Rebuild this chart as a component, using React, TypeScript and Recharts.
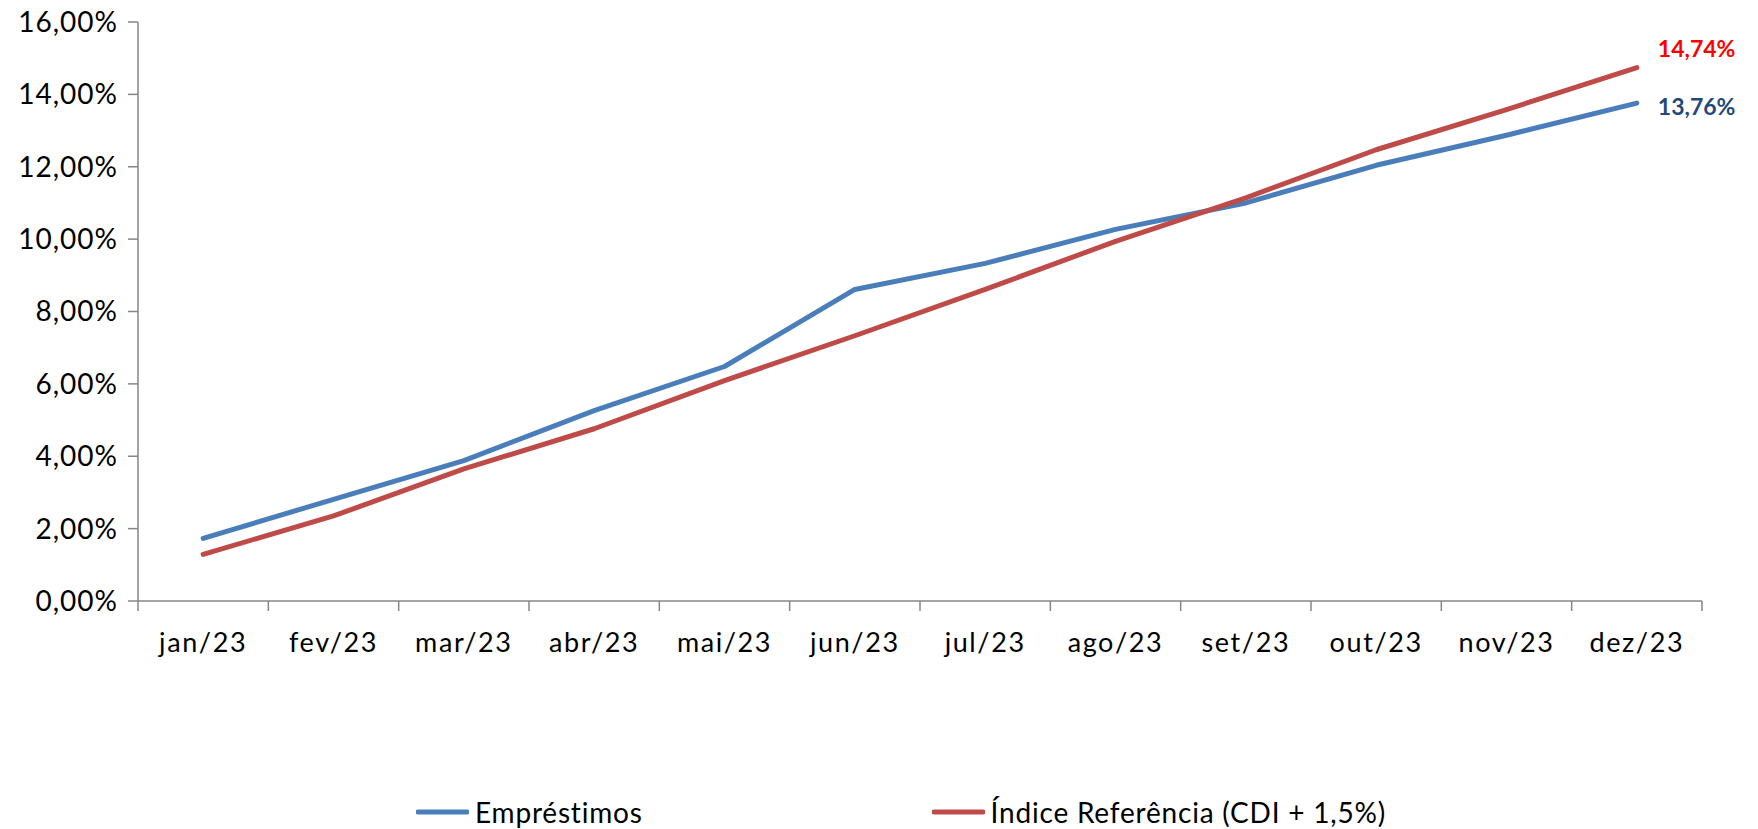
import React from 'react';
import { ComposedChart, Line, XAxis, YAxis, Legend, LabelList } from 'recharts';

const months = ['jan/23', 'fev/23', 'mar/23', 'abr/23', 'mai/23', 'jun/23', 'jul/23', 'ago/23', 'set/23', 'out/23', 'nov/23', 'dez/23'];
const emprestimos = [1.73, 2.81, 3.88, 5.26, 6.48, 8.61, 9.33, 10.27, 11.0, 12.04, 12.87, 13.76];
const indiceReferencia = [1.29, 2.35, 3.65, 4.76, 6.09, 7.33, 8.61, 9.94, 11.14, 12.47, 13.58, 14.74];
const yTicks = [0, 2, 4, 6, 8, 10, 12, 14, 16];
const seriesNames = ['Empréstimos', 'Índice Referência (CDI + 1,5%)'];
const seriesColors = ['#4A7EBB', '#BE4B48'];
const labelColors = ['#1F497D', '#FF0000'];

const data = months.map((m, i) => ({ month: m, emp: emprestimos[i], idx: indiceReferencia[i] }));

const fmtPct = (v: number) => v.toFixed(2).replace('.', ',') + '%';

const FONT = 'Lato, "Open Sans", sans-serif';
const AXIS_GRAY = '#868686';

const makeEndLabel = (color: string, dy: number) => (props: any) => {
  const { x, y, value, index } = props;
  if (index !== months.length - 1) return null;
  return (
    <text x={x + 21} y={y + dy} fill={color} fontFamily={FONT} fontWeight={700} fontSize={23} dominantBaseline="central" textAnchor="start">
      {fmtPct(Number(value))}
    </text>
  );
};

const CategoryTick = (props: any) => {
  const { x, y, payload, index } = props;
  const half = payload && payload.offset ? payload.offset : 0;
  return (
    <g>
      <line x1={x - half} y1={y} x2={x - half} y2={y + 10} stroke={AXIS_GRAY} strokeWidth={1.5} />
      {index === months.length - 1 && (
        <line x1={x + half} y1={y} x2={x + half} y2={y + 10} stroke={AXIS_GRAY} strokeWidth={1.5} />
      )}
      <text x={x} y={y + 40} textAnchor="middle" dominantBaseline="central" fontFamily={FONT} fontSize={27} letterSpacing={1.6} fill="#000">
        {payload.value}
      </text>
    </g>
  );
};

const LegendContent = () => (
  <div style={{ display: 'flex', justifyContent: 'center', alignItems: 'center', height: 34, paddingLeft: 44, gap: 289, fontFamily: FONT, fontSize: 28, letterSpacing: 0.8, color: '#000' }}>
    {seriesNames.map((name, i) => (
      <div key={name} style={{ display: 'flex', alignItems: 'center' }}>
        <svg width={53} height={10} style={{ display: 'block' }}>
          <line x1={2} y1={5} x2={51} y2={5} stroke={seriesColors[i]} strokeWidth={5} strokeLinecap="round" />
        </svg>
        <span style={{ marginLeft: 6, whiteSpace: 'nowrap' }}>{name}</span>
      </div>
    ))}
  </div>
);

export default function App() {
  return (
    <div style={{ position: 'absolute', left: 0, top: 0, width: 1758, height: 829, background: '#fff' }}>
      <ComposedChart width={1758} height={829} data={data} margin={{ top: 22, right: 56, left: 0, bottom: 134 }}>
        <XAxis
          dataKey="month"
          scale="band"
          height={60}
          interval={0}
          axisLine={{ stroke: AXIS_GRAY, strokeWidth: 1.5 }}
          tickLine={false}
          tickSize={0}
          tickMargin={0}
          tick={<CategoryTick />}
        />
        <YAxis
          width={138}
          domain={[0, 16]}
          ticks={yTicks}
          interval={0}
          tickFormatter={fmtPct}
          tickSize={10}
          tickMargin={10}
          axisLine={{ stroke: AXIS_GRAY, strokeWidth: 1.5 }}
          tickLine={{ stroke: AXIS_GRAY, strokeWidth: 1.5 }}
          tick={{ fontFamily: FONT, fontSize: 28, fill: '#000', letterSpacing: 1 }}
        />
        <Legend verticalAlign="bottom" content={<LegendContent />} wrapperStyle={{ left: 0, bottom: 0, width: 1758, height: 34 }} />
        <Line type="linear" dataKey="emp" name={seriesNames[0]} stroke={seriesColors[0]} strokeWidth={5} strokeLinecap="round" strokeLinejoin="round" dot={false} activeDot={false} isAnimationActive={false}>
          <LabelList dataKey="emp" content={makeEndLabel(labelColors[0], 3)} />
        </Line>
        <Line type="linear" dataKey="idx" name={seriesNames[1]} stroke={seriesColors[1]} strokeWidth={5} strokeLinecap="round" strokeLinejoin="round" dot={false} activeDot={false} isAnimationActive={false}>
          <LabelList dataKey="idx" content={makeEndLabel(labelColors[1], -20)} />
        </Line>
      </ComposedChart>
    </div>
  );
}
